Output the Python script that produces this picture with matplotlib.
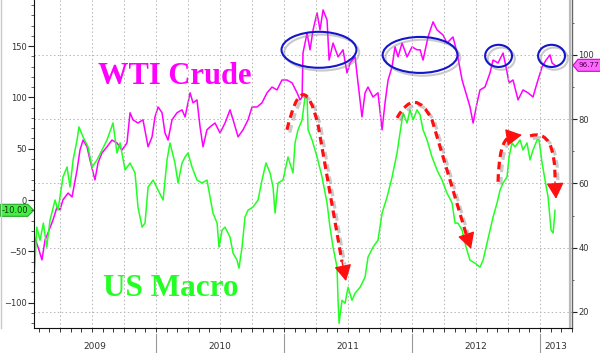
import matplotlib
matplotlib.use('Agg')
import matplotlib.pyplot as plt
import matplotlib.patheffects as pe
import matplotlib.transforms as mtransforms
from matplotlib.patches import Ellipse, PathPatch, Polygon
from matplotlib.path import Path
from matplotlib.lines import Line2D
from matplotlib.ticker import MultipleLocator, FixedLocator, NullFormatter

# ---------------- data (decimal years) -------------
macro_t = [2009.039, 2009.055, 2009.068, 2009.094, 2009.120, 2009.146, 2009.172, 2009.211, 2009.234, 2009.273,
           2009.305, 2009.328, 2009.352, 2009.383, 2009.398, 2009.430, 2009.469, 2009.500, 2009.539, 2009.578,
           2009.617, 2009.664, 2009.695, 2009.719, 2009.758, 2009.797, 2009.836, 2009.859, 2009.891, 2009.914,
           2009.938, 2009.977, 2010.016, 2010.055, 2010.086, 2010.109, 2010.148, 2010.172, 2010.203, 2010.227,
           2010.250, 2010.281, 2010.320, 2010.359, 2010.398, 2010.422, 2010.445, 2010.477, 2010.492, 2010.516,
           2010.539, 2010.578, 2010.602, 2010.633, 2010.648, 2010.672, 2010.695, 2010.719, 2010.758, 2010.797,
           2010.828, 2010.859, 2010.891, 2010.914, 2010.930, 2010.953, 2010.992, 2011.031, 2011.070, 2011.086,
           2011.109, 2011.141, 2011.164, 2011.180, 2011.188, 2011.219, 2011.258, 2011.297, 2011.336, 2011.359,
           2011.383, 2011.414, 2011.422, 2011.430, 2011.453, 2011.477, 2011.500, 2011.531, 2011.555, 2011.594,
           2011.633, 2011.656, 2011.695, 2011.734, 2011.766, 2011.805, 2011.844, 2011.883, 2011.906, 2011.930,
           2011.961, 2011.984, 2012.008, 2012.039, 2012.063, 2012.086, 2012.117, 2012.156, 2012.195, 2012.234,
           2012.273, 2012.313, 2012.336, 2012.359, 2012.391, 2012.422, 2012.453, 2012.492, 2012.531, 2012.555,
           2012.586, 2012.609, 2012.633, 2012.664, 2012.688, 2012.711, 2012.742, 2012.758, 2012.781, 2012.805,
           2012.844, 2012.867, 2012.898, 2012.922, 2012.945, 2012.977, 2012.992, 2013.016, 2013.039, 2013.063,
           2013.086, 2013.102, 2013.109, 2013.117]
macro_v = [-87.9, -58.6, -26.4, -39.1, -22.5, -45.9, -19.5, 0.0, -9.8, 22.5,
           32.2, 12.7, 39.1, 58.6, 71.3, 61.5, 51.8, 32.2, 39.1, 48.8,
           58.6, 75.2, 45.9, 55.7, 29.3, 36.1, 26.4, -6.8, -26.4, -22.5,
           12.7, 19.5, 9.8, 0.0, 39.1, 55.7, 36.1, 16.6, 36.1, 42.0,
           45.9, 32.2, 19.5, 16.6, 19.5, 2.9, -12.7, -22.5, -45.9, -29.3,
           -26.4, -36.1, -51.8, -58.6, -66.4, -45.9, -16.6, -9.8, -6.8, 0.0,
           19.5, 36.1, 26.4, 12.7, -12.7, 16.6, 19.5, 42.0, 26.4, 55.7,
           68.4, 78.1, 100.6, 100.6, 68.4, 58.6, 42.0, 22.5, -2.9, -26.4,
           -45.9, -65.4, -97.7, -120.1, -97.7, -100.6, -85.0, -97.7, -90.8, -85.0,
           -75.2, -55.7, -45.9, -39.1, -12.7, 2.9, 22.5, 45.9, 65.4, 84.9,
           75.2, 87.9, 78.1, 87.9, 83.0, 68.4, 58.6, 42.0, 29.3, 19.5,
           6.8, -2.9, -22.5, -22.5, -29.3, -45.9, -58.6, -61.5, -65.4, -58.6,
           -42.0, -29.3, -16.6, -2.9, 9.8, 16.6, 22.5, 42.0, 55.7, 51.8,
           58.6, 48.8, 55.7, 39.1, 48.8, 58.6, 58.6, 36.1, 19.5, 2.9,
           -29.3, -32.2, -22.5, -10.0]

wti_t = [2009.039, 2009.078, 2009.109, 2009.133, 2009.156, 2009.195, 2009.227, 2009.250, 2009.273, 2009.313,
         2009.344, 2009.383, 2009.406, 2009.430, 2009.461, 2009.484, 2009.523, 2009.547, 2009.578, 2009.617,
         2009.656, 2009.695, 2009.734, 2009.773, 2009.797, 2009.820, 2009.859, 2009.898, 2009.938, 2009.969,
         2009.992, 2010.016, 2010.047, 2010.070, 2010.094, 2010.125, 2010.164, 2010.203, 2010.227, 2010.266,
         2010.289, 2010.320, 2010.344, 2010.367, 2010.398, 2010.422, 2010.461, 2010.500, 2010.539, 2010.578,
         2010.602, 2010.641, 2010.680, 2010.719, 2010.750, 2010.789, 2010.828, 2010.867, 2010.906, 2010.945,
         2010.984, 2011.023, 2011.063, 2011.102, 2011.125, 2011.141, 2011.148, 2011.180, 2011.203, 2011.227,
         2011.258, 2011.281, 2011.305, 2011.336, 2011.352, 2011.383, 2011.422, 2011.461, 2011.492, 2011.516,
         2011.555, 2011.578, 2011.609, 2011.633, 2011.656, 2011.695, 2011.734, 2011.766, 2011.789, 2011.813,
         2011.844, 2011.867, 2011.891, 2011.922, 2011.961, 2012.000, 2012.039, 2012.063, 2012.086, 2012.125,
         2012.164, 2012.195, 2012.242, 2012.273, 2012.320, 2012.352, 2012.391, 2012.430, 2012.453, 2012.477,
         2012.508, 2012.531, 2012.570, 2012.609, 2012.633, 2012.672, 2012.711, 2012.734, 2012.758, 2012.789,
         2012.828, 2012.867, 2012.906, 2012.945, 2012.977, 2013.016, 2013.047, 2013.078, 2013.094, 2013.117]
wti_v = [44.6, 40.2, 36.2, 42.4, 44.6, 48.6, 52.7, 51.8, 54.9, 57.0,
         55.8, 64.2, 70.4, 73.5, 71.4, 67.3, 61.1, 66.4, 69.5, 71.4,
         73.5, 72.6, 70.4, 72.6, 82.0, 79.8, 78.8, 79.8, 71.4, 74.5,
         80.7, 83.8, 82.0, 75.7, 73.5, 79.8, 82.0, 82.9, 80.7, 88.2,
         85.1, 86.0, 77.6, 71.4, 76.7, 77.6, 78.8, 75.7, 78.8, 82.9,
         79.8, 74.5, 76.7, 79.8, 83.8, 83.8, 85.1, 88.2, 90.0, 89.1,
         92.2, 92.2, 91.3, 88.2, 86.0, 86.9, 100.6, 106.8, 101.6, 107.8,
         113.1, 107.8, 114.0, 110.9, 98.4, 103.7, 99.4, 101.6, 94.4, 97.5,
         99.4, 91.3, 80.7, 88.2, 90.0, 86.9, 88.2, 76.7, 85.1, 92.2,
         96.3, 102.5, 99.4, 103.7, 99.4, 102.5, 101.6, 101.6, 98.4, 105.6,
         110.3, 107.8, 106.2, 103.7, 105.6, 100.6, 92.2, 86.9, 83.8, 78.8,
         85.1, 89.1, 90.0, 94.4, 98.4, 97.5, 100.6, 96.3, 91.3, 92.2,
         86.0, 89.1, 88.2, 86.9, 91.3, 96.3, 98.4, 100.0, 97.5, 96.77]

left_ticks = [-100, -50, 0, 50, 100, 150]
right_ticks = [20, 40, 60, 80, 100]
year_labels = ['2009', '2010', '2011', '2012', '2013']
year_starts = [2009.0, 2010.0, 2011.0, 2012.0, 2013.0]

# highlighted regions on the WTI series: (centre year, centre value, width yrs, height)
circles = [(2011.273, 101.6, 0.585, 11.2), (2012.063, 100.0, 0.585, 11.2),
           (2012.676, 99.7, 0.21, 6.9), (2013.090, 99.7, 0.21, 6.9)]
# dashed trend arrows (start, control, end, [line-to], head tip) in (year, right-axis value)
arrows = [
    [(2011.023, 76.7), (2011.148, 97.8), (2011.266, 78.2), (2011.453, 35.6), (2011.484, 29.6)],
    [(2011.883, 80.4), (2012.023, 90.4), (2012.156, 79.8), (2012.422, 44.3), (2012.461, 39.6)],
    [(2012.672, 60.5), (2012.680, 73.5), (2012.766, 74.5), None, (2012.859, 75.1)],
    [(2012.922, 74.8), (2013.125, 77.3), (2013.117, 60.5), None, (2013.125, 55.2)],
]

GREEN = '#22ff22'
MAGENTA = '#ff00ff'

fig = plt.figure(figsize=(6.0, 3.53), dpi=100)
fig.patch.set_facecolor('white')
ax = fig.add_axes([0.0562, 0.070, 0.8972, 0.930])
ax2 = ax.twinx()
ax.set_zorder(ax2.get_zorder() + 1)
ax.patch.set_visible(False)

x0, x1 = 2009.0445, 2013.25
ax.set_xlim(x0, x1)
ax.set_ylim(-125, 195)
ax2.set_ylim(14.9, 117.1)

ax2.plot(wti_t, wti_v, color=MAGENTA, lw=1.1, zorder=2)
ax.plot(macro_t, macro_v, color=GREEN, lw=1.1, zorder=2)

# ticks
ax.yaxis.set_major_locator(FixedLocator(left_ticks))
ax.yaxis.set_minor_locator(MultipleLocator(10))
ax2.yaxis.set_major_locator(FixedLocator(right_ticks))
ax2.yaxis.set_minor_locator(MultipleLocator(10))
quarters = [2009.25 + 0.25 * i for i in range(16)]
months = [2009 + m / 12 for m in range(1, 52)]
ax.xaxis.set_major_locator(FixedLocator(quarters))
ax.xaxis.set_minor_locator(FixedLocator(months))
ax.xaxis.set_major_formatter(NullFormatter())
ax.tick_params(axis='x', which='both', length=3, width=0.7, direction='out', color='#333333')
ax.tick_params(axis='y', which='major', length=4, width=0.8, labelsize=6, pad=1,
               labelcolor='#333333', color='#222222')
ax.tick_params(axis='y', which='minor', length=2, width=0.6, color='#444444')
ax2.tick_params(axis='y', which='major', length=3.5, width=0.8, labelsize=6, pad=1,
                labelcolor='#333333', color='#222222')
ax2.tick_params(axis='y', which='minor', length=1.5, width=0.6, color='#444444')

ax.grid(axis='x', which='major', color='#b5b5b5', linestyle=(0, (1.5, 2.5)), lw=0.7)
ax2.grid(axis='y', which='major', color='#b5b5b5', linestyle=(0, (1.5, 2.5)), lw=0.7)

for s in ['top', 'right']:
    ax.spines[s].set_visible(False)
for s in ['top', 'left', 'bottom']:
    ax2.spines[s].set_visible(False)
ax.spines['left'].set_color('#111111')
ax.spines['bottom'].set_color('#111111')
ax2.spines['right'].set_color('#666666')
ax2.spines['right'].set_linewidth(1.0)
ax.plot([0.9953, 0.9953], [0, 1], transform=ax.transAxes, color='#bbbbbb', lw=1.6, clip_on=False)

# year strip
blend = mtransforms.blended_transform_factory(ax.transData, ax.transAxes)
ends = year_starts[1:] + [x1]
for lab, a, b in zip(year_labels, year_starts, ends):
    a = max(a, x0)
    ax.text((a + b) / 2, -0.056, lab, transform=blend, ha='center', va='center',
            fontsize=6.5, color='#333333')
for ys in year_starts[1:]:
    ax.plot([ys, ys], [-0.018, -0.075], transform=blend, color='#999999', lw=0.8, clip_on=False)

# big labels
ax.text(0.1195, 0.745, 'WTI Crude', transform=ax.transAxes, fontsize=22,
        fontfamily='Liberation Serif', fontweight='bold', color=MAGENTA, va='baseline')
ax.text(0.1287, 0.097, 'US Macro', transform=ax.transAxes, fontsize=22.5,
        fontfamily='Liberation Serif', fontweight='bold', color=GREEN, va='baseline')

# ellipses
for (cx, cy, w, h) in circles:
    e = Ellipse((cx, cy), w, h, fill=False, ec='#1515cc', lw=1.5, transform=ax2.transData, zorder=6,
                path_effects=[pe.SimpleLineShadow(offset=(2, -2), shadow_color='#888888', alpha=0.45),
                              pe.Normal()])
    ax.add_patch(e)

# arrows
for p0, c, p1, l, tip in arrows:
    verts = [p0, c, p1]
    codes = [Path.MOVETO, Path.CURVE3, Path.CURVE3]
    if l is not None:
        verts.append(l)
        codes.append(Path.LINETO)
    pp = PathPatch(Path(verts, codes), fill=False, ec='#ff1010', lw=2.3,
                   linestyle=(0, (2.4, 1.5)), transform=ax2.transData, zorder=7,
                   path_effects=[pe.SimpleLineShadow(offset=(2, -2), shadow_color='#888888', alpha=0.45),
                                 pe.Normal()])
    ax.add_patch(pp)
    start = verts[-1]
    ax.annotate('', xy=tip, xytext=start, xycoords=ax2.transData, textcoords=ax2.transData,
                arrowprops=dict(arrowstyle='-|>,head_length=0.7,head_width=0.38', mutation_scale=14,
                                color='#ff1010', lw=1.0, shrinkA=0, shrinkB=0), zorder=8)

# value tags
fig.canvas.draw()
ident = mtransforms.IdentityTransform()
lx, ly = ax.transData.transform((x0, macro_v[-1]))
tag_l = Polygon([(0.5, ly - 6), (lx - 6, ly - 6), (lx, ly), (lx - 6, ly + 6), (0.5, ly + 6)],
                closed=True, fc='#44ee44', ec='#22aa22', lw=0.8, transform=ident)
fig.add_artist(tag_l)
fig.text((lx - 4) / 2, ly, f'{macro_v[-1]:.2f}', transform=ident, ha='center', va='center',
         fontsize=6, color='#113311')
rx, ry = ax2.transData.transform((x1, wti_v[-1]))
tag_r = Polygon([(rx + 1, ry), (rx + 6, ry - 6), (601, ry - 6), (601, ry + 6), (rx + 6, ry + 6)],
                closed=True, fc='#ff66ff', ec='#cc00cc', lw=0.8, transform=ident)
fig.add_artist(tag_r)
fig.text(rx + 6, ry, f'{wti_v[-1]:.2f}', transform=ident, ha='left', va='center',
         fontsize=5.2, color='#440044')

# outer frame line on left
fig.add_artist(Line2D([0.5, 0.5], [24.7, 353], transform=ident, color='#c8c8c8', lw=1))

fig.savefig('out.png', dpi=100, facecolor='white')
